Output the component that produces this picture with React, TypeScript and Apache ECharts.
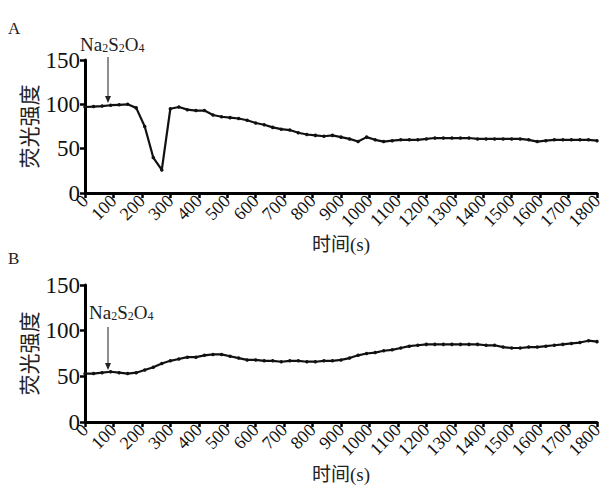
import React, { useEffect, useRef } from "react";
import * as echarts from "echarts";

const times: number[] = [];
for (let i = 0; i <= 60; i++) times.push(i * 30);

const seriesA = [
  97, 97.5, 98, 99, 99.5, 100, 96, 75, 40, 26,
  95, 97, 94, 93, 93, 88, 86, 85, 84, 82,
  79, 77, 74, 72, 71, 68, 66, 65, 64, 65,
  63, 61, 58, 63, 60, 58, 59, 60, 60, 60,
  61, 62, 62, 62, 62, 62, 61, 61, 61, 61,
  61, 61, 60, 58, 59, 60, 60, 60, 60, 60, 59,
];

const seriesB = [
  53, 53, 54, 55, 54, 53, 54, 57, 60, 64,
  67, 69, 71, 71, 73, 74, 74, 72, 70, 68,
  68, 67, 67, 66, 67, 67, 66, 66, 67, 67,
  68, 70, 73, 75, 76, 78, 79, 81, 83, 84,
  85, 85, 85, 85, 85, 85, 85, 84, 84, 82,
  81, 81, 82, 82, 83, 84, 85, 86, 87, 89, 88,
];

const yTicks = [0, 50, 100, 150];
const xMax = 1800;
const xStep = 100;
const yTitle = "荧光强度";
const xTitle = "时间(s)";
const panelLabels = ["A", "B"];
const reagent = "{a|Na}{s|2}{a|S}{s|2}{a|O}{s|4}";

const FONT = "Liberation Serif";
const CJK = "Liberation Serif, Noto Sans CJK SC, serif";

export default function App() {
  const ref = useRef<HTMLDivElement>(null);
  useEffect(() => {
    if (!ref.current) return;
    const chart = echarts.init(ref.current, undefined, { renderer: "svg" });
    const grids = [
      { left: 85, top: 60, width: 512, height: 133 },
      { left: 85, top: 285, width: 512, height: 137 },
    ];
    const xAxis = grids.map((_, i) => ({
      type: "value",
      gridIndex: i,
      min: 0,
      max: xMax,
      interval: xStep,
      splitLine: { show: false },
      axisLine: { show: true, lineStyle: { color: "#000", width: 3 } },
      axisTick: { show: true, length: 5, lineStyle: { color: "#000", width: 2.5 } },
      axisLabel: {
        rotate: 45,
        margin: 5,
        color: "#111",
        fontSize: 18,
        fontFamily: FONT,
        formatter: (v: number) => String(v),
      },
    }));
    const yAxis = grids.map((_, i) => ({
      type: "value",
      gridIndex: i,
      min: yTicks[0],
      max: yTicks[yTicks.length - 1],
      interval: 50,
      splitLine: { show: false },
      axisLine: { show: true, lineStyle: { color: "#000", width: 3 } },
      axisTick: { show: true, length: 5, lineStyle: { color: "#000", width: 2.5 } },
      axisLabel: {
        margin: 5,
        color: "#111",
        fontSize: 23,
        fontFamily: FONT,
        formatter: (v: number) => String(v),
      },
    }));
    const mk = (data: number[], i: number) => ({
      type: "line",
      xAxisIndex: i,
      yAxisIndex: i,
      data: times.map((t, k) => [t, data[k]]),
      symbol: "circle",
      symbolSize: 3.5,
      showSymbol: true,
      lineStyle: { color: "#111", width: 2.2 },
      itemStyle: { color: "#111" },
    });
    const textStyle = (size: number) => ({ fill: "#222", fontSize: size, fontFamily: CJK });
    const reagentRich = {
      a: { fontSize: 19, fontFamily: FONT, fill: "#222", lineHeight: 20, verticalAlign: "bottom" },
      s: { fontSize: 12, fontFamily: FONT, fill: "#222", lineHeight: 9, verticalAlign: "bottom" },
    };
    const graphic: any[] = [
      { type: "text", left: 8, top: 20, style: { text: panelLabels[0], ...textStyle(17) } },
      { type: "text", left: 8, top: 250, style: { text: panelLabels[1], ...textStyle(17) } },
      {
        type: "text",
        x: 30,
        y: 126.5,
        rotation: Math.PI / 2,
        style: { text: yTitle, ...textStyle(21), align: "center", verticalAlign: "middle" },
      },
      {
        type: "text",
        x: 30,
        y: 353.5,
        rotation: Math.PI / 2,
        style: { text: yTitle, ...textStyle(21), align: "center", verticalAlign: "middle" },
      },
      {
        type: "text",
        x: 341,
        y: 244,
        style: { text: xTitle, ...textStyle(19), align: "center", verticalAlign: "middle" },
      },
      {
        type: "text",
        x: 341,
        y: 474,
        style: { text: xTitle, ...textStyle(19), align: "center", verticalAlign: "middle" },
      },
      { type: "text", x: 80, y: 34, style: { text: reagent, rich: reagentRich } },
      { type: "text", x: 89, y: 302, style: { text: reagent, rich: reagentRich } },
      { type: "line", shape: { x1: 108, y1: 57, x2: 108, y2: 97 }, style: { stroke: "#444", lineWidth: 1.2 } },
      { type: "polygon", shape: { points: [[105, 96], [111, 96], [108, 103]] }, style: { fill: "#222" } },
      { type: "line", shape: { x1: 108, y1: 327, x2: 108, y2: 364 }, style: { stroke: "#444", lineWidth: 1.2 } },
      { type: "polygon", shape: { points: [[105, 363], [111, 363], [108, 370]] }, style: { fill: "#222" } },
    ];
    chart.setOption({
      animation: false,
      backgroundColor: "#fff",
      grid: grids,
      xAxis,
      yAxis,
      series: [mk(seriesA, 0), mk(seriesB, 1)],
      graphic,
    });
    return () => chart.dispose();
  }, []);
  return (
    <div
      ref={ref}
      style={{ position: "fixed", left: 0, top: 0, width: 606, height: 493 }}
    />
  );
}
